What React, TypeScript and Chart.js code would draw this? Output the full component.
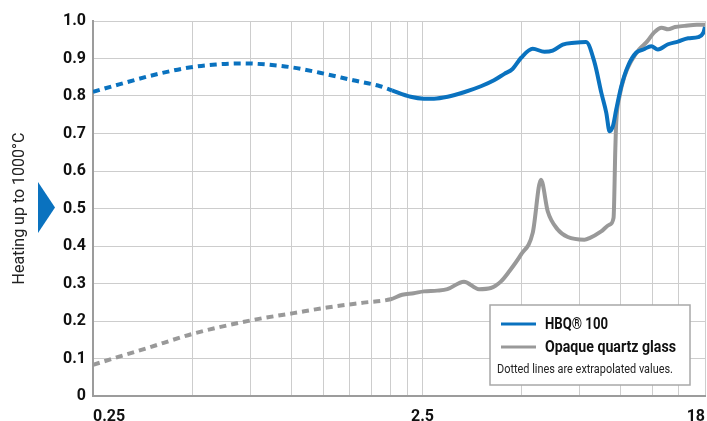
import React, { useEffect, useRef } from 'react';
import { Chart, registerables } from 'chart.js';

Chart.register(...registerables);

const FONT = "Roboto, 'Liberation Sans', sans-serif";

const xTickValues = [0.25, 0.5, 0.75, 1, 1.25, 1.5, 1.75, 2, 2.25, 2.5, 5, 7.5, 10, 12.5, 15, 18];
const xTickLabels: Record<string, string> = { '0.25': '0.25', '2.5': '2.5', '18': '18' };
const yTickValues = [0, 0.1, 0.2, 0.3, 0.4, 0.5, 0.6, 0.7, 0.8, 0.9, 1.0];

const seriesNames = ['HBQ® 100', 'Opaque quartz glass'];
const legendNote = 'Dotted lines are extrapolated values.';
const axisTitle = 'Heating up to 1000°C';
const extrapolationLimit = 2.03;

const hbqWavelengths = [
  0.25, 0.3, 0.39, 0.49, 0.59, 0.71, 0.84, 1.01, 1.22, 1.54, 1.86, 2.02,
  2.3, 2.52, 2.71, 2.98, 3.34, 3.76, 4.12, 4.43, 4.69, 4.98, 5.4, 5.86, 6.21, 6.66, 7.23, 7.84,
  8.32, 8.72, 9.03, 9.24, 9.46, 9.68, 10.03, 10.51, 11.14, 11.7, 12.37, 12.95, 13.9, 14.9, 16.0, 17.17, 17.8, 18,
];
const hbqValues = [
  0.811, 0.831, 0.858, 0.876, 0.884, 0.887, 0.884, 0.876, 0.862, 0.842, 0.826, 0.815,
  0.798, 0.793, 0.793, 0.798, 0.81, 0.826, 0.842, 0.859, 0.872, 0.902, 0.926, 0.918, 0.921, 0.937, 0.942, 0.944,
  0.889, 0.809, 0.755, 0.706, 0.72, 0.764, 0.826, 0.88, 0.916, 0.924, 0.933, 0.924, 0.938, 0.945, 0.954, 0.957, 0.969, 0.984,
];

const quartzWavelengths = [
  0.25, 0.3, 0.363, 0.503, 0.767, 1.015, 1.283, 1.658, 2.0,
  2.17, 2.35, 2.525, 2.77, 2.975, 3.34, 3.71, 4.03, 4.32, 4.58, 4.975, 5.4, 5.72, 6.0, 6.43, 6.9, 7.75, 8.03, 8.715,
  9.24, 9.5, 9.62, 9.68, 9.91, 10.26, 10.75, 11.35, 12.0, 12.6, 13.3, 13.9, 14.6, 15.6, 17.0, 18,
];
const quartzValues = [
  0.083, 0.105, 0.127, 0.166, 0.203, 0.221, 0.236, 0.249, 0.258,
  0.27, 0.274, 0.279, 0.281, 0.285, 0.305, 0.285, 0.288, 0.305, 0.332, 0.377, 0.435, 0.577, 0.492, 0.444, 0.424, 0.417, 0.421, 0.439,
  0.457, 0.475, 0.66, 0.73, 0.8, 0.853, 0.893, 0.924, 0.945, 0.969, 0.982, 0.978, 0.984, 0.987, 0.99, 0.99,
];

const BLUE = '#0a72bf';
const GRAY = '#999999';

const toPoints = (xs: number[], ys: number[]) => xs.map((x, i) => ({ x, y: ys[i] }));

// draw text squeezed horizontally to a target width (condensed look)
const fitText = (ctx: CanvasRenderingContext2D, text: string, x: number, y: number, width: number) => {
  const w = ctx.measureText(text).width;
  const sx = Math.min(1, width / w);
  ctx.save();
  ctx.translate(x, y);
  ctx.scale(sx, 1);
  ctx.fillText(text, 0, 0);
  ctx.restore();
};

const decorPlugin = {
  id: 'decor',
  afterDraw(chart: any) {
    const ctx = chart.ctx as CanvasRenderingContext2D;
    const ca = chart.chartArea;
    ctx.save();
    // arrow triangle next to the axis title
    ctx.fillStyle = BLUE;
    ctx.beginPath();
    ctx.moveTo(38, 182);
    ctx.lineTo(55, 207.5);
    ctx.lineTo(38, 233);
    ctx.closePath();
    ctx.fill();

    // legend box
    const bw = 200;
    const bh = 80;
    const bx = ca.right - 215;
    const by = ca.bottom - 91;
    ctx.fillStyle = '#ffffff';
    ctx.fillRect(bx, by, bw, bh);
    ctx.strokeStyle = '#a8a8a8';
    ctx.lineWidth = 1.5;
    ctx.strokeRect(bx, by, bw, bh);

    const rows = [
      { name: seriesNames[0], color: BLUE, y: by + 19, w: 63 },
      { name: seriesNames[1], color: GRAY, y: by + 42, w: 131 },
    ];
    rows.forEach((r) => {
      ctx.strokeStyle = r.color;
      ctx.lineWidth = 3;
      ctx.beginPath();
      ctx.moveTo(bx + 11, r.y);
      ctx.lineTo(bx + 46, r.y);
      ctx.stroke();
      ctx.fillStyle = '#111111';
      ctx.font = `bold 17px ${FONT}`;
      ctx.textBaseline = 'middle';
      ctx.textAlign = 'left';
      fitText(ctx, r.name, bx + 55, r.y + 1, r.w);
    });
    ctx.font = `13px ${FONT}`;
    ctx.fillStyle = '#222222';
    fitText(ctx, legendNote, bx + 7, by + 65, 176);
    ctx.restore();
  },
};

export default function App() {
  const ref = useRef<HTMLCanvasElement | null>(null);

  useEffect(() => {
    if (!ref.current) return;
    const dashSeg = (c: any) => (c.p1.parsed.x <= extrapolationLimit ? [7, 5] : []);
    const chart = new Chart(ref.current, {
      type: 'line',
      data: {
        datasets: [
          {
            label: seriesNames[0],
            data: toPoints(hbqWavelengths, hbqValues),
            borderColor: BLUE,
            borderWidth: 4,
            pointRadius: 0,
            borderCapStyle: 'butt',
            borderJoinStyle: 'round',
            cubicInterpolationMode: 'monotone',
            segment: { borderDash: dashSeg },
          } as any,
          {
            label: seriesNames[1],
            data: toPoints(quartzWavelengths, quartzValues),
            borderColor: GRAY,
            borderWidth: 4,
            pointRadius: 0,
            borderCapStyle: 'butt',
            borderJoinStyle: 'round',
            cubicInterpolationMode: 'monotone',
            segment: { borderDash: dashSeg },
          } as any,
        ],
      },
      options: {
        responsive: false,
        animation: false,
        parsing: false as any,
        layout: { padding: { top: 21, right: 2, left: 0, bottom: 0 } },
        plugins: {
          legend: { display: false },
          tooltip: { enabled: false },
        },
        scales: {
          x: {
            type: 'logarithmic',
            min: 0.25,
            max: 18,
            afterBuildTicks: (scale: any) => {
              scale.ticks = xTickValues.map((v) => ({ value: v }));
            },
            afterFit: (scale: any) => {
              scale.height = 25;
              scale.paddingLeft = 0;
              scale.paddingRight = 0;
            },
            grid: { color: '#cdcdcd', lineWidth: 1, drawTicks: false },
            border: { color: '#9c9c9c', width: 2 },
            ticks: {
              autoSkip: false,
              maxRotation: 0,
              align: 'inner',
              padding: 11,
              color: '#111111',
              font: { family: FONT, size: 16, weight: 'bold' },
              callback: (v: any) => xTickLabels[String(v)] ?? '',
            },
          },
          y: {
            min: 0,
            max: 1,
            afterBuildTicks: (scale: any) => {
              scale.ticks = yTickValues.map((v) => ({ value: v }));
            },
            afterFit: (scale: any) => {
              scale.width = 93;
            },
            grid: { color: '#cdcdcd', lineWidth: 1, drawTicks: false },
            border: { color: '#9c9c9c', width: 2 },
            ticks: {
              padding: 7,
              color: '#111111',
              font: { family: FONT, size: 16, weight: 'bold' },
              callback: (v: any) => (Number(v) === 0 ? '0' : Number(v).toFixed(1)),
            },
            title: {
              display: true,
              text: axisTitle,
              color: '#222222',
              font: { family: FONT, size: 16, weight: 'normal' },
              padding: { top: 10, bottom: 0 },
            },
          },
        },
      } as any,
      plugins: [decorPlugin],
    });
    return () => chart.destroy();
  }, []);

  return (
    <div style={{ position: 'fixed', left: 0, top: 0, width: 707, height: 421, background: '#ffffff' }}>
      <canvas ref={ref} width={707} height={421} style={{ display: 'block' }} />
    </div>
  );
}
